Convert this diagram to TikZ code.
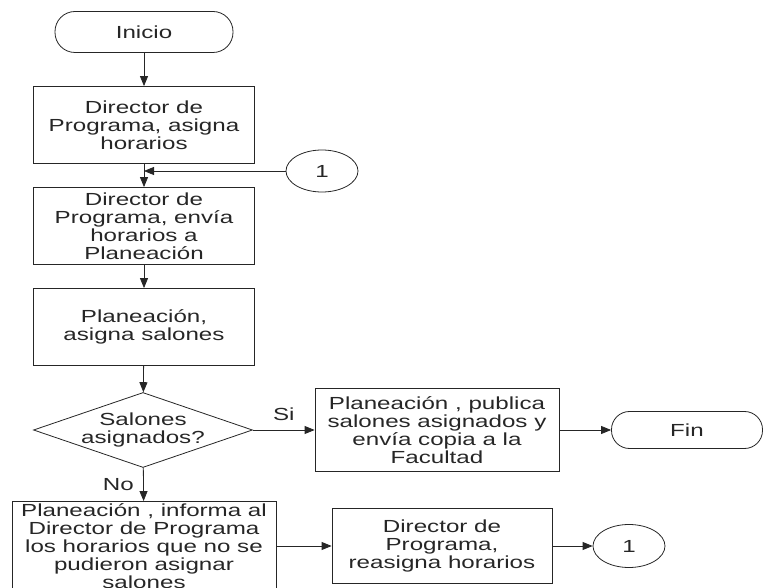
\documentclass[tikz,border=0pt]{standalone}
\usepackage{fontspec}
\setmainfont{Liberation Sans}[FakeStretch=1.38]
\usetikzlibrary{arrows.meta,shapes.geometric,positioning}

\begin{document}
\begin{tikzpicture}[x=1pt,y=-1pt,
    >={Triangle[length=10pt,width=8pt]},
    line width=1.1pt, color=black!85,
    every node/.style={font=\fontsize{17.5}{18}\selectfont,text=black!85,align=center}]
\useasboundingbox (0,0) rectangle (764,588);
\begin{scope}[every node/.style={draw,thick,inner sep=2pt,font=\fontsize{17.5}{18}\selectfont,
              text=black!85,align=center,minimum width=221pt,minimum height=77pt}]
    \node[rounded corners=20pt,minimum width=178pt,minimum height=41pt] (inicio) at (144,32) {Inicio};
    \node (dir1) at (144,125) {Director de\\Programa, asigna\\horarios};
    \node (dir2) at (144,226) {Director de\\Programa, envía\\horarios a\\Planeación};
    \node (plan) at (144,327) {Planeación,\\asigna salones};
    \node[diamond,aspect=2.9,inner sep=-6pt,minimum width=219pt,minimum height=75pt] (salones) at (143,430) {Salones\\asignados?};
    \node[minimum width=244pt,minimum height=83pt] (publica) at (437,430) {Planeación , publica\\salones asignados y\\envía copia a la\\Facultad};
    \node[rounded corners=18pt,minimum width=151pt,minimum height=37pt] (fin) at (687,430) {Fin};
    \node[minimum width=264pt,minimum height=88pt] (informa) at (144,546) {Planeación , informa al\\Director de Programa\\los horarios que no se\\pudieron asignar\\salones};
    \node[minimum width=220pt,minimum height=75pt] (reasigna) at (442,546) {Director de\\Programa,\\reasigna horarios};
    \node[ellipse,minimum width=72pt,minimum height=43pt] (c1b) at (629,546) {1};
    \node[ellipse,minimum width=72pt,minimum height=42pt] (c1t) at (322,171) {1};
\end{scope}
\coordinate (junta) at (dir1.south |- c1t);
\begin{scope}[every path/.style={thick}]
    \draw[->] (inicio) -- (dir1);
    \draw[->] (dir1) -- (dir2);
    \draw[->] (c1t) -- (junta);
    \draw[->] (dir2) -- (plan);
    \draw[->] (plan) -- (salones);
    \draw[->] (salones) -- node[above=6pt] {Si} (publica);
    \draw[->] (publica) -- (fin);
    \draw[->] (salones) -- node[left=6pt] {No} (informa);
    \draw[->] (informa) -- (reasigna);
    \draw[->] (reasigna) -- (c1b);
\end{scope}
\end{tikzpicture}
\end{document}
